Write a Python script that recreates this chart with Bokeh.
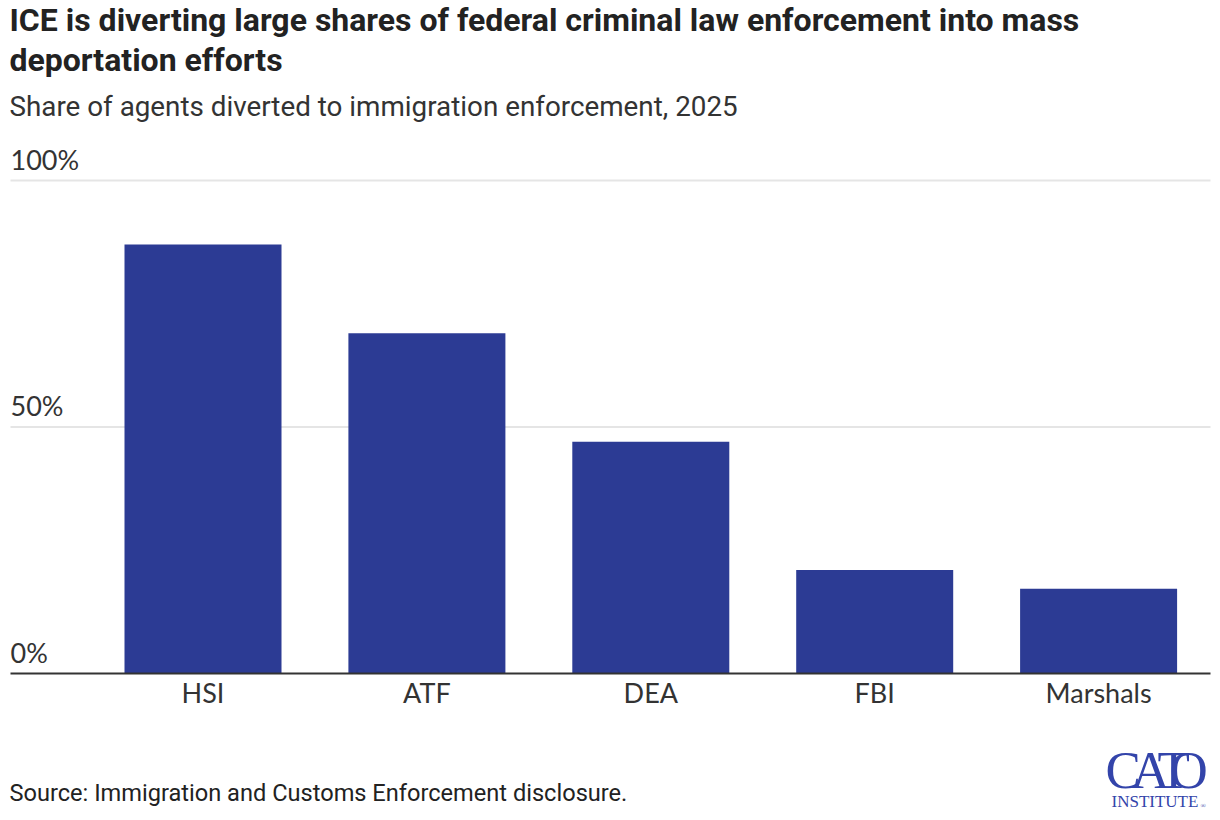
from bokeh.plotting import figure
from bokeh.models import Range1d, Label, ColumnDataSource
from bokeh.core.properties import value
from bokeh.embed import file_html
from bokeh.resources import INLINE

# ---- data ----
categories = ["HSI", "ATF", "DEA", "FBI", "Marshals"]
shares = [87, 69, 47, 21, 17.2]
y_ticks = [0, 50, 100]
y_tick_labels = ["0%", "50%", "100%"]

title_lines = ["ICE is diverting large shares of federal criminal law enforcement into mass",
               "deportation efforts"]
subtitle = "Share of agents diverted to immigration enforcement, 2025"
source = "Source: Immigration and Customs Enforcement disclosure."

# ---- layout helpers (page pixel -> data units) ----
W, H = 1220, 820
ZERO_PY, HUND_PY = 673, 180
PXU = (ZERO_PY - HUND_PY) / 100.0
X0_PX, STEP_PX = 202.5, 223.9
BL_FIX = 0.42  # baseline correction (fraction of font size)

def dy(py):
    return (ZERO_PY - py) / PXU

def dx(px):
    return (px - X0_PX) / STEP_PX

def base(py, size):
    return dy(py - BL_FIX * size)

p = figure(width=W, height=H, output_backend="svg", toolbar_location=None,
           x_range=Range1d(dx(0), dx(W)), y_range=Range1d(dy(H), dy(0)),
           x_axis_location=None, y_axis_location=None, min_border=0,
           outline_line_color=None, background_fill_color="white",
           border_fill_color="white")
p.xgrid.visible = False
p.ygrid.visible = False

# gridlines
gl_x0, gl_x1 = dx(10), dx(1210)
p.segment(x0=[gl_x0] * 2, x1=[gl_x1] * 2, y0=y_ticks[1:], y1=y_ticks[1:],
          line_color="#e5e5e5", line_width=2)

# bars
xs = list(range(len(categories)))
src = ColumnDataSource(dict(x=xs, top=shares, cat=categories))
p.vbar(x="x", top="top", bottom=0, width=157 / STEP_PX, source=src,
       fill_color="#2c3b94", line_color=None)

# zero line
p.segment(x0=[gl_x0], x1=[gl_x1], y0=[0], y1=[0], line_color="#333333", line_width=2)

# y tick labels (above gridlines)
TS = 27
p.text(x=[gl_x0] * 3, y=y_ticks, text=y_tick_labels, text_font=value("Lato"),
       text_font_size=f"{TS}px", text_color="#333333", text_align="left",
       text_baseline="alphabetic", y_offset=-10 - BL_FIX * TS)

# category labels
p.text(x="x", y=0, text="cat", source=src, text_font=value("Lato"),
       text_font_size=f"{TS}px", text_color="#333333", text_align="center",
       text_baseline="alphabetic", y_offset=30 - BL_FIX * TS)

# titles
T1 = 32
for i, line in enumerate(title_lines):
    p.add_layout(Label(x=dx(9), y=base(33 + 40 * i, T1), text=line, text_font="Roboto",
                       text_font_style="bold", text_font_size=f"{T1}px",
                       text_color="#222222", text_baseline="alphabetic"))
T2 = 27.8
p.add_layout(Label(x=dx(9), y=base(118, T2), text=subtitle, text_font="Roboto",
                   text_font_size=f"{T2}px", text_color="#333333", text_baseline="alphabetic"))
T3 = 23.6
p.add_layout(Label(x=dx(9), y=base(802, T3), text=source, text_font="Roboto",
                   text_font_size=f"{T3}px", text_color="#222222", text_baseline="alphabetic"))

# CATO logo
logo_color = "#3344aa"
LS = 53
for letter, px in zip(["C", "A", "T", "O"], [1105, 1131, 1157, 1169]):
    p.add_layout(Label(x=dx(px), y=base(792, LS), text=letter, text_font="Liberation Serif",
                       text_font_size=f"{LS}px", text_color=logo_color,
                       text_baseline="alphabetic"))
p.add_layout(Label(x=dx(1111), y=base(808, 17), text="INSTITUTE", text_font="Liberation Serif",
                   text_font_size="17px", text_color=logo_color, text_baseline="alphabetic"))
p.add_layout(Label(x=dx(1200), y=base(808, 7), text="®", text_font="Liberation Serif",
                   text_font_size="7px", text_color=logo_color, text_baseline="alphabetic"))

open("out.html", "w").write(file_html(p, INLINE))
